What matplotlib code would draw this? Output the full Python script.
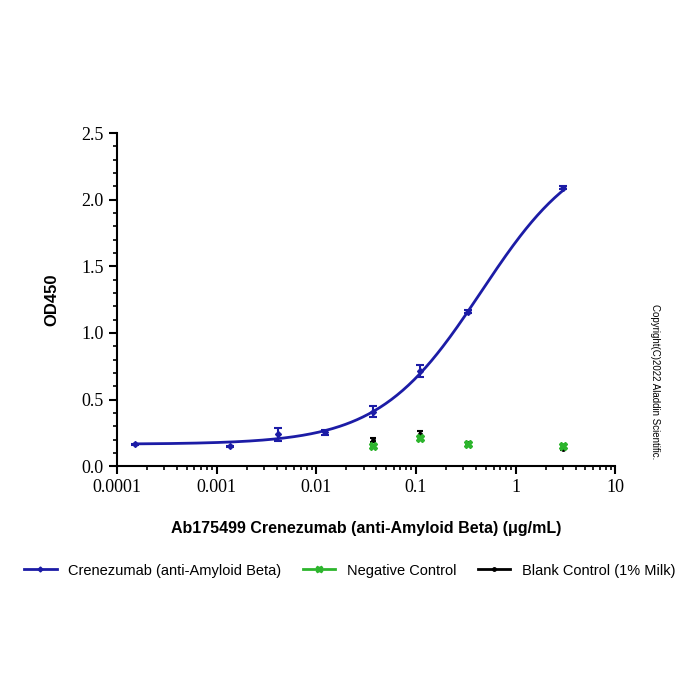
import numpy as np
import matplotlib
matplotlib.use("Agg")
import matplotlib.pyplot as plt
from matplotlib.ticker import FixedLocator, LogLocator, NullFormatter, MultipleLocator

plt.rcParams['font.family'] = ['Liberation Sans', 'DejaVu Sans']

# concentrations (ug/mL)
conc_ab = [0.000152, 0.00137, 0.0041, 0.0123, 0.037, 0.111, 0.333, 3.0]
od_ab = [0.165, 0.15, 0.24, 0.255, 0.41, 0.715, 1.16, 2.09]
err_ab = [0.005, 0.005, 0.05, 0.02, 0.04, 0.045, 0.01, 0.01]

conc_ctrl = [0.037, 0.111, 0.333, 3.0]
od_neg = [0.15, 0.215, 0.17, 0.155]
err_neg = [0.005, 0.01, 0.005, 0.01]
od_blank = [0.195, 0.245, 0.17, 0.13]
err_blank = [0.015, 0.02, 0.01, 0.01]

# 4PL fit parameters for Crenezumab curve
BOTTOM, TOP, EC50, HILL = 0.165, 2.45, 0.45, 0.85

BLUE = "#1c1ca6"
GREEN = "#2db52d"

fig = plt.figure(figsize=(7, 7), dpi=100)
ax = fig.add_axes([0.167, 0.334, 0.712, 0.476])

xs = np.logspace(np.log10(conc_ab[0]), np.log10(conc_ab[-1]), 300)
ys = BOTTOM + (TOP - BOTTOM) / (1 + (EC50 / xs) ** HILL)
ax.plot(xs, ys, color=BLUE, lw=2)
ax.errorbar(conc_ab, od_ab, yerr=err_ab, fmt="D", color=BLUE, ms=3,
            capsize=3, elinewidth=1.5, capthick=1.5)
ax.errorbar(conc_ctrl, od_blank, yerr=err_blank, fmt="o", color="black", ms=2.5,
            capsize=2, elinewidth=1.5, capthick=1.5)
ax.errorbar(conc_ctrl, od_neg, yerr=err_neg, fmt="X", color=GREEN, ms=6,
            capsize=2, elinewidth=1.2, capthick=1.2)

ax.set_xscale("log")
ax.set_xlim(0.0001, 10)
ax.set_ylim(0, 2.5)
ax.xaxis.set_major_locator(FixedLocator([0.0001, 0.001, 0.01, 0.1, 1, 10]))
ax.set_xticklabels(["0.0001", "0.001", "0.01", "0.1", "1", "10"])
ax.xaxis.set_minor_locator(LogLocator(base=10, subs=np.arange(2, 10)))
ax.xaxis.set_minor_formatter(NullFormatter())
ax.set_yticks(np.arange(0, 2.51, 0.5))
ax.set_yticklabels([f"{v:.1f}" for v in np.arange(0, 2.51, 0.5)])
ax.yaxis.set_minor_locator(MultipleLocator(0.1))

for s in ["top", "right"]:
    ax.spines[s].set_visible(False)
for s in ["left", "bottom"]:
    ax.spines[s].set_linewidth(1.5)
ax.tick_params(which="major", length=6, width=1.5, direction="out", labelsize=13)
ax.tick_params(which="minor", length=3, width=1.2, direction="out")
for lab in ax.get_xticklabels() + ax.get_yticklabels():
    lab.set_family("Liberation Serif")

ax.set_xlabel("Ab175499 Crenezumab (anti-Amyloid Beta) (μg/mL)", fontsize=11.5,
              fontweight="bold", labelpad=18)
ax.set_ylabel("OD450", fontsize=12, fontweight="bold", labelpad=16)

handles = [
    plt.Line2D([], [], color=BLUE, lw=2, marker="D", ms=2.5),
    plt.Line2D([], [], color=GREEN, lw=2, marker="X", ms=5),
    plt.Line2D([], [], color="black", lw=2, marker="o", ms=2.5),
]
labels = ["Crenezumab (anti-Amyloid Beta)", "Negative Control", "Blank Control (1% Milk)"]
fig.legend(handles, labels, loc="center", bbox_to_anchor=(0.5, 0.185), ncol=3,
           frameon=False, fontsize=10.5, handlelength=2.2, columnspacing=1.5)

fig.text(0.935, 0.455, "Copyright(C)2022 Aladdin Scientific.", rotation=-90,
         fontsize=7, ha="center", va="center")

fig.savefig("out.png", dpi=100)
